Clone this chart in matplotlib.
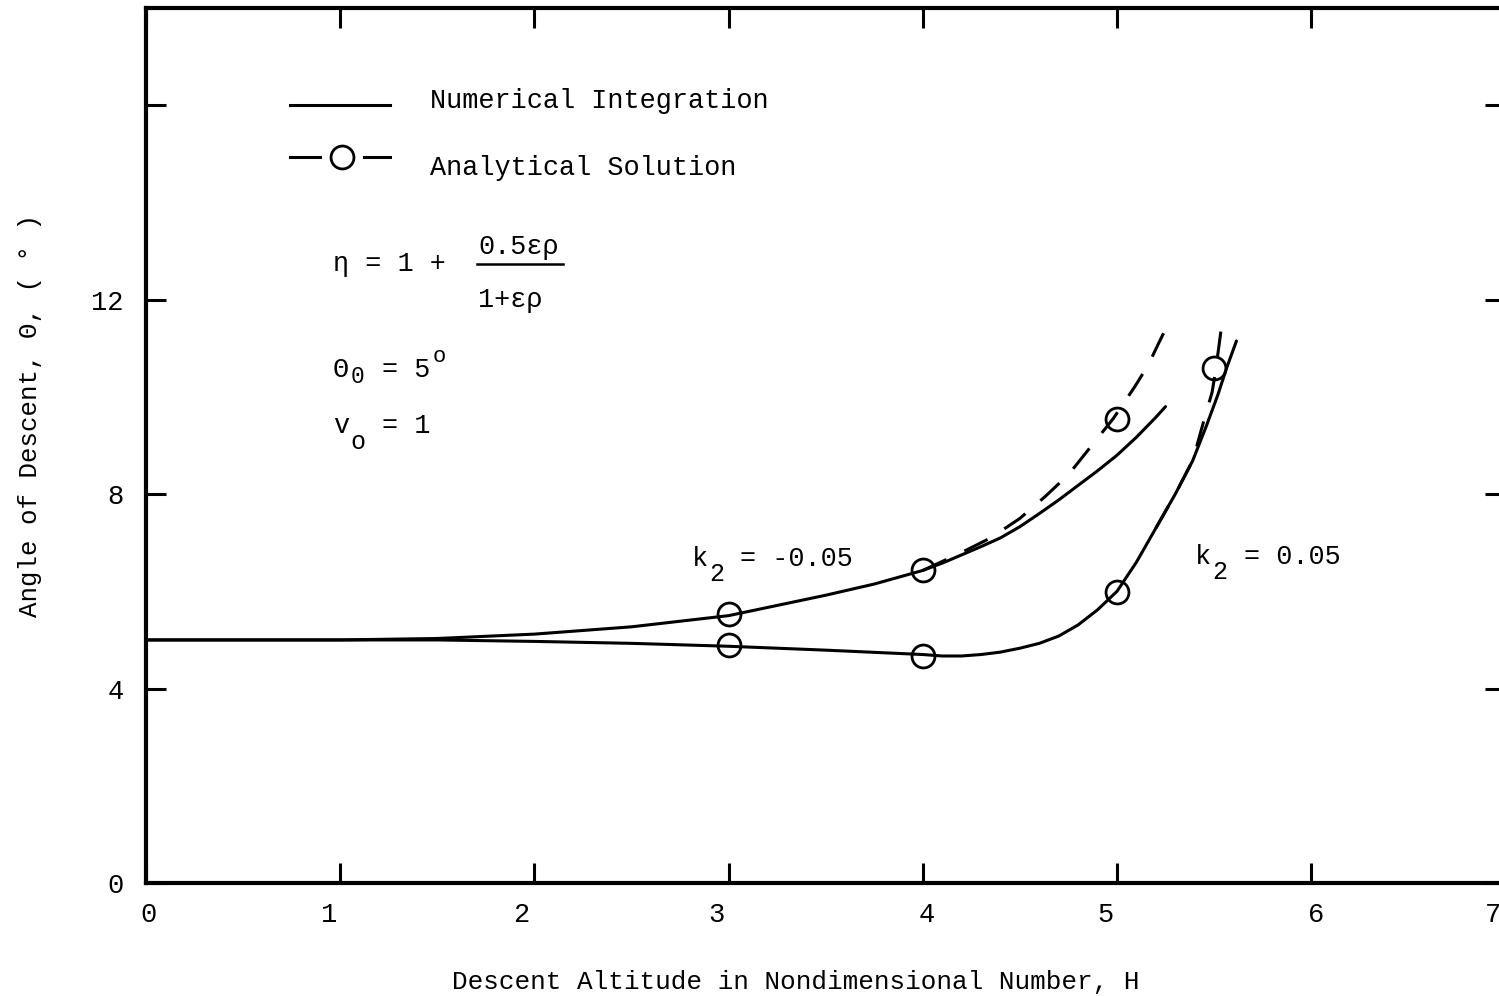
import matplotlib
matplotlib.use("Agg")
import matplotlib.pyplot as plt
from matplotlib.lines import Line2D
from matplotlib.transforms import ScaledTranslation

# ---- data -------------------------------------------------------------
# Numerical integration, k2 = -0.05
H_num_neg = [0.0, 0.5, 1.0, 1.5, 2.0, 2.5, 3.0, 3.5, 3.75, 4.0, 4.1, 4.2, 4.3,
             4.4, 4.5, 4.6, 4.7, 4.8, 4.9, 5.0, 5.1, 5.2, 5.25]
T_num_neg = [5.0, 5.0, 5.0, 5.03, 5.12, 5.27, 5.5, 5.92, 6.15, 6.43, 6.58,
             6.75, 6.92, 7.1, 7.33, 7.6, 7.88, 8.18, 8.48, 8.8, 9.17, 9.58, 9.8]

# Numerical integration, k2 = 0.05
H_num_pos = [0.0, 1.0, 1.5, 2.0, 2.5, 3.0, 3.5, 4.0, 4.1, 4.2, 4.3, 4.4, 4.5,
             4.6, 4.7, 4.8, 4.9, 5.0, 5.1, 5.2, 5.3, 5.39, 5.46, 5.52, 5.565,
             5.615]
T_num_pos = [5.0, 5.0, 5.0, 4.97, 4.93, 4.87, 4.79, 4.70, 4.67, 4.67, 4.70,
             4.75, 4.83, 4.93, 5.08, 5.31, 5.62, 6.0, 6.6, 7.3, 8.0, 8.69, 9.4,
             10.05, 10.6, 11.15]

# Analytical solution (dashed branches where it departs from the integration)
H_ana_neg = [4.0, 4.2, 4.35, 4.5, 4.63, 4.75, 4.85, 4.98, 5.09, 5.16, 5.22, 5.27]
T_ana_neg = [6.43, 6.8, 7.1, 7.5, 7.95, 8.4, 8.9, 9.55, 10.2, 10.65, 11.15, 11.55]

H_ana_pos = [5.2, 5.3, 5.39, 5.45, 5.49, 5.51, 5.525, 5.54]
T_ana_pos = [7.3, 8.0, 8.69, 9.55, 10.1, 10.6, 11.05, 11.5]

# Analytical solution points
H_pts_neg = [3, 4, 5]
T_pts_neg = [5.53, 6.43, 9.55]
H_pts_pos = [3, 4, 5, 5.5]
T_pts_pos = [4.89, 4.68, 5.98, 10.6]

x_ticks = [0, 1, 2, 3, 4, 5, 6, 7]
y_ticks = [0, 4, 8, 12, 16]
y_tick_labels = ["0", "4", "8", "12", ""]

# ---- style ------------------------------------------------------------
FONT = "Liberation Mono"
plt.rcParams["font.family"] = [FONT, "DejaVu Sans"]

W, Hpx = 1499, 996
FS = 19.4                 # body text size (pt)
CH = FS * 100 / 72 * 0.6  # monospace advance in pixels

fig = plt.figure(figsize=(W / 100, Hpx / 100), dpi=100)
ax = fig.add_axes([146 / W, 113 / Hpx, 1359.4 / W, 875 / Hpx])


def fp(x, y):
    """Pixel position (from top-left) to figure fraction."""
    return x / W, 1 - y / Hpx


def line_fig(xs, ys, **kw):
    fig.add_artist(Line2D([x / W for x in xs], [1 - y / Hpx for y in ys],
                          transform=fig.transFigure, **kw))


LW = 2.2
ax.plot(H_num_neg, T_num_neg, color="black", lw=LW, solid_capstyle="round",
        solid_joinstyle="round")
ax.plot(H_num_pos, T_num_pos, color="black", lw=LW, solid_capstyle="round",
        solid_joinstyle="round")
ax.plot(H_ana_neg, T_ana_neg, color="black", lw=LW, dashes=(8.5, 6.5))
ax.plot(H_ana_pos, T_ana_pos, color="black", lw=LW, dashes=(8.5, 6.5))
circ = dict(linestyle="none", marker="o", markersize=16.5, markerfacecolor="none",
            markeredgecolor="black", markeredgewidth=2.0)
ax.plot(H_pts_neg, T_pts_neg, **circ)
ax.plot(H_pts_pos, T_pts_pos, **circ)

ax.set_xlim(0, 7)
ax.set_ylim(0, 18)
ax.set_xticks(x_ticks)
ax.set_xticklabels([str(v) for v in x_ticks])
ax.set_yticks(y_ticks)
ax.set_yticklabels(y_tick_labels)
ax.tick_params(axis="both", direction="in", length=14.5, width=2.2,
               labelsize=19.5, top=True, right=True, color="black")
ax.tick_params(axis="x", pad=14)
ax.tick_params(axis="y", pad=16)
for s in ax.spines.values():
    s.set_linewidth(3.0)

# typed numerals sit a little off their tick marks
x_label_shift = [2, -11, -13, -12, 4, -12, 5, -12]
for lab, dx in zip(ax.get_xticklabels(), x_label_shift):
    lab.set_transform(lab.get_transform()
                      + ScaledTranslation(dx / 100, 0, fig.dpi_scale_trans))

fig.text(*fp(796, 982), "Descent Altitude in Nondimensional Number, H",
         fontsize=18.7, ha="center", va="center")
fig.text(*fp(30, 415), "Angle of Descent, \u0398, ( \u00b0 )", rotation=90,
         fontsize=18.6, ha="center", va="center")

# ---- legend, drawn by hand --------------------------------------------
line_fig([290, 390], [105, 105], color="black", lw=LW)
line_fig([290, 320], [157, 157], color="black", lw=LW)
line_fig([364, 390], [157, 157], color="black", lw=LW)
line_fig([342], [157], **circ)
fig.text(*fp(430, 108), "Numerical Integration", fontsize=FS, va="baseline")
fig.text(*fp(430, 175), "Analytical Solution", fontsize=FS, va="baseline")


def typed(x, y, pieces):
    """Typewriter line built from pieces: (char slot, text, shift px, size)."""
    for slot, txt, dy, size in pieces:
        fig.text(*fp(x + slot * CH, y + dy), txt, fontsize=size, va="baseline")


# ---- parameter annotations --------------------------------------------
typed(333, 271, [(0, "\u03b7 = 1 +", 0, FS)])
typed(478, 254, [(0, "0.5\u03b5\u03c1", 0, FS)])
line_fig([477, 563], [264, 264], color="black", lw=1.8)
typed(478, 307, [(0, "1+\u03b5\u03c1", 0, FS)])
typed(333, 377, [(0, "\u0398", 0, FS), (1.1, "0", 6, 16.5),
                 (3, "= 5", 0, FS), (6.15, "o", -15, 16.0)])
typed(333, 433, [(0, "v", 0, FS), (1.05, "o", 16, 18.0), (3, "= 1", 0, FS)])
typed(692, 566, [(0, "k", 0, FS), (1.05, "2", 15, 18.0),
                 (3, "= -0.05", 0, FS)])
typed(1195, 564, [(0, "k", 0, FS), (1.05, "2", 15, 18.0),
                  (3, "= 0.05", 0, FS)])

fig.savefig("out.png", dpi=100, facecolor="white")
